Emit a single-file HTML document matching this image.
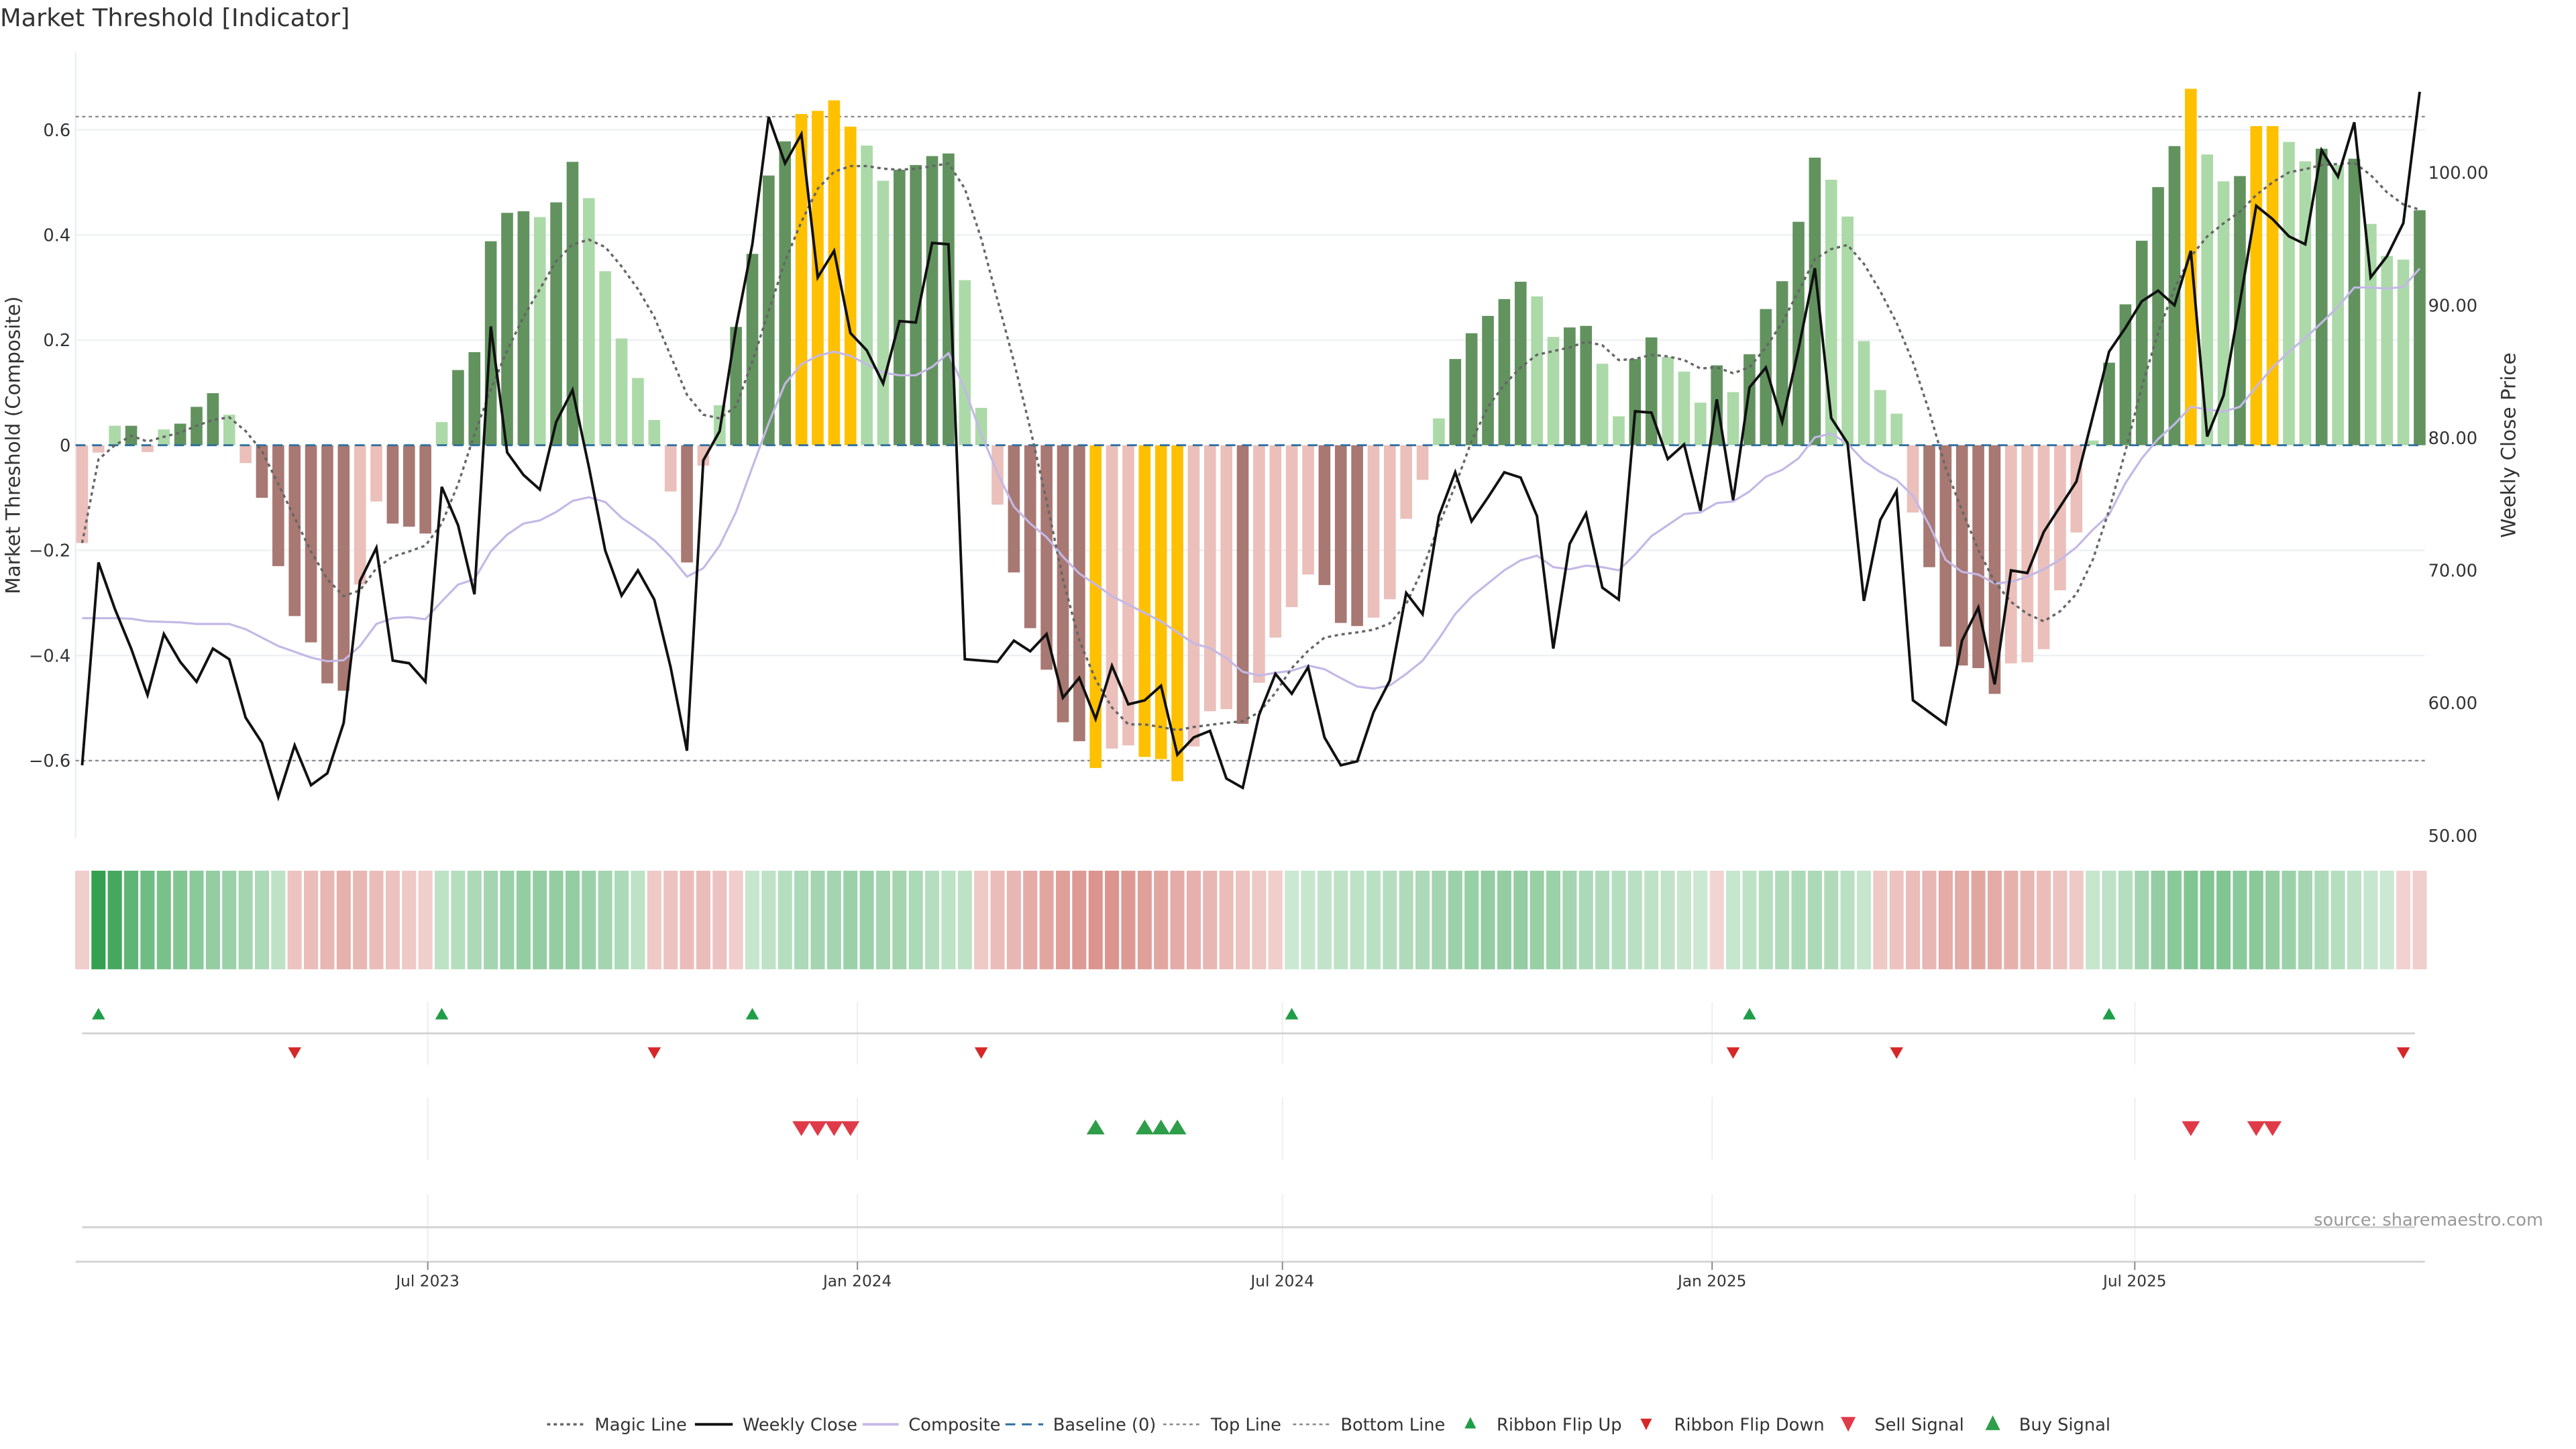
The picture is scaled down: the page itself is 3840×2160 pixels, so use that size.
<!DOCTYPE html>
<html><head><meta charset="utf-8">
<style>
html,body{margin:0;padding:0;background:#fff;}
svg{display:block;font-family:"DejaVu Sans","Liberation Sans",sans-serif;}
</style></head>
<body>
<svg id="chart" xmlns="http://www.w3.org/2000/svg" width="3840" height="2160" viewBox="0 0 1568 882" preserveAspectRatio="none">
<rect x="0" y="0" width="1568" height="882" fill="#fff"/>
<text x="0" y="16" font-size="15" fill="#333">Market Threshold [Indicator]</text>
<g id="grid"></g>
<g id="bars"></g>
<g id="lines"></g>
<g id="axes"></g>
<g id="heat"></g>
<g id="markers"></g>
<text x="12" y="271" font-size="12" fill="#333" text-anchor="middle" transform="rotate(-90 12 271)">Market Threshold (Composite)</text>
<text x="1531" y="271" font-size="12" fill="#333" text-anchor="middle" transform="rotate(-90 1531 271)">Weekly Close Price</text>
<text x="1548" y="746" font-size="10.5" fill="#999" text-anchor="end">source: sharemaestro.com</text>
<g id="legend"></g>
</svg>
<script>
const startDate = "2023-02-03";
const barValues = [-0.186,-0.014,0.037,0.037,-0.013,0.03,0.041,0.073,0.099,0.058,-0.034,-0.10,-0.23,-0.325,-0.375,-0.453,-0.467,-0.265,-0.107,-0.149,-0.155,-0.168,0.044,0.143,0.177,0.388,0.442,0.445,0.434,0.462,0.539,0.470,0.331,0.203,0.128,0.048,-0.088,-0.223,-0.039,0.076,0.225,0.364,0.513,0.578,0.63,0.636,0.656,0.606,0.570,0.503,0.524,0.533,0.550,0.555,0.314,0.071,-0.113,-0.242,-0.348,-0.427,-0.527,-0.563,-0.614,-0.577,-0.571,-0.593,-0.597,-0.639,-0.573,-0.506,-0.502,-0.530,-0.452,-0.366,-0.308,-0.246,-0.266,-0.338,-0.344,-0.328,-0.293,-0.140,-0.066,0.051,0.164,0.213,0.246,0.278,0.311,0.283,0.206,0.224,0.227,0.155,0.055,0.164,0.205,0.168,0.140,0.081,0.152,0.101,0.173,0.259,0.312,0.425,0.547,0.505,0.435,0.198,0.105,0.060,-0.128,-0.232,-0.383,-0.419,-0.424,-0.473,-0.415,-0.413,-0.388,-0.276,-0.166,0.009,0.157,0.268,0.389,0.491,0.569,0.678,0.553,0.502,0.512,0.607,0.607,0.577,0.540,0.564,0.533,0.545,0.421,0.360,0.353,0.447];
const barToneGroups = ["llldlldddl","lddddddlld","ddldddddld","dlllllldll","ddddggggll","ddddlllddd","ddgllgggll","ldlllldddl","lllldddddl","lddllddlll","dldddddlll","llldddddll","lllldddddg","lldgglldld","llld"];
const barTones = barToneGroups.join("");
const closePrices = [55.3,70.6,67.1,64.1,60.6,65.2,63.1,61.6,64.1,63.3,58.9,57.0,52.9,56.8,53.8,54.7,58.5,69.2,71.7,63.2,63.0,61.6,76.3,73.4,68.2,88.4,78.9,77.2,76.1,81.2,83.6,77.8,71.5,68.1,70.0,67.8,62.7,56.4,78.3,80.5,88.3,94.6,104.2,100.7,102.9,92.1,94.1,87.9,86.6,84.1,88.8,88.7,94.7,94.6,63.3,63.2,63.1,64.7,63.9,65.2,60.4,61.9,58.8,62.8,59.9,60.2,61.3,56.1,57.4,57.9,54.3,53.6,59.1,62.2,60.7,62.7,57.4,55.3,55.6,59.3,61.7,68.3,66.7,74.1,77.4,73.7,75.5,77.4,77.0,74.1,64.1,72.0,74.3,68.7,67.8,82.0,81.9,78.4,79.5,74.5,82.9,75.3,83.8,85.3,81.2,86.7,92.8,81.5,79.6,67.7,73.8,76.0,60.2,59.3,58.4,64.7,67.2,61.4,70.0,69.8,72.9,74.8,76.7,81.6,86.5,88.3,90.3,91.1,90.0,94.1,80.1,83.2,90.2,97.5,96.5,95.2,94.6,101.7,99.7,103.8,92.1,93.7,96.2,106.1];
const compositeLine = [-0.329,-0.329,-0.329,-0.33,-0.335,-0.336,-0.337,-0.34,-0.34,-0.34,-0.35,-0.366,-0.382,-0.393,-0.404,-0.411,-0.409,-0.382,-0.34,-0.329,-0.327,-0.331,-0.297,-0.265,-0.255,-0.202,-0.17,-0.149,-0.143,-0.127,-0.106,-0.099,-0.108,-0.138,-0.159,-0.181,-0.212,-0.25,-0.234,-0.191,-0.127,-0.042,0.042,0.117,0.154,0.17,0.178,0.17,0.154,0.138,0.133,0.133,0.149,0.175,0.106,0.021,-0.053,-0.117,-0.149,-0.175,-0.212,-0.244,-0.265,-0.287,-0.303,-0.319,-0.335,-0.356,-0.377,-0.386,-0.405,-0.431,-0.438,-0.433,-0.429,-0.419,-0.426,-0.443,-0.459,-0.463,-0.457,-0.435,-0.41,-0.368,-0.321,-0.288,-0.263,-0.238,-0.219,-0.21,-0.232,-0.236,-0.229,-0.232,-0.238,-0.208,-0.173,-0.152,-0.131,-0.128,-0.11,-0.107,-0.088,-0.06,-0.047,-0.025,0.015,0.022,0.003,-0.03,-0.051,-0.066,-0.096,-0.152,-0.218,-0.241,-0.246,-0.263,-0.26,-0.25,-0.236,-0.218,-0.194,-0.161,-0.132,-0.072,-0.025,0.012,0.04,0.073,0.068,0.064,0.073,0.111,0.148,0.178,0.204,0.233,0.263,0.3,0.3,0.298,0.301,0.336];
const magicLine = [-0.186,-0.027,0,0.018,0.007,0.016,0.024,0.037,0.048,0.053,0.027,-0.011,-0.074,-0.138,-0.202,-0.255,-0.287,-0.276,-0.234,-0.212,-0.202,-0.191,-0.149,-0.074,0.021,0.106,0.18,0.244,0.297,0.35,0.382,0.391,0.377,0.34,0.297,0.244,0.17,0.096,0.058,0.051,0.074,0.159,0.255,0.35,0.425,0.488,0.52,0.531,0.531,0.526,0.524,0.526,0.531,0.536,0.488,0.393,0.276,0.159,0.032,-0.106,-0.255,-0.371,-0.446,-0.499,-0.531,-0.531,-0.536,-0.542,-0.536,-0.532,-0.528,-0.525,-0.508,-0.471,-0.424,-0.391,-0.366,-0.36,-0.356,-0.351,-0.339,-0.302,-0.236,-0.152,-0.077,0.008,0.073,0.115,0.148,0.172,0.179,0.186,0.197,0.19,0.162,0.164,0.172,0.169,0.162,0.146,0.148,0.137,0.148,0.186,0.233,0.293,0.354,0.373,0.381,0.345,0.293,0.233,0.158,0.064,-0.043,-0.124,-0.199,-0.26,-0.298,-0.321,-0.335,-0.316,-0.283,-0.218,-0.124,-0.011,0.111,0.214,0.298,0.359,0.397,0.422,0.444,0.476,0.5,0.519,0.525,0.533,0.535,0.537,0.514,0.481,0.458,0.448];
const heatValues = [-0.15,1.0,0.9,0.75,0.65,0.6,0.55,0.5,0.45,0.4,0.35,0.3,0.2,-0.25,-0.3,-0.35,-0.4,-0.35,-0.3,-0.25,-0.2,-0.15,0.2,0.25,0.3,0.35,0.4,0.45,0.45,0.45,0.45,0.4,0.35,0.3,0.2,-0.2,-0.25,-0.3,-0.3,-0.25,-0.15,0.15,0.2,0.25,0.3,0.35,0.35,0.4,0.4,0.35,0.35,0.3,0.25,0.2,0.2,-0.2,-0.3,-0.35,-0.45,-0.5,-0.55,-0.6,-0.65,-0.65,-0.6,-0.55,-0.5,-0.45,-0.4,-0.35,-0.3,-0.25,-0.2,-0.15,0.12,0.15,0.18,0.2,0.2,0.22,0.25,0.28,0.3,0.35,0.4,0.42,0.45,0.45,0.45,0.42,0.4,0.35,0.3,0.28,0.25,0.22,0.2,0.18,0.15,0.12,-0.1,0.15,0.2,0.25,0.28,0.3,0.3,0.28,0.22,0.15,-0.2,-0.25,-0.3,-0.35,-0.45,-0.45,-0.5,-0.45,-0.4,-0.35,-0.3,-0.25,-0.2,0.15,0.2,0.25,0.35,0.45,0.5,0.55,0.55,0.55,0.5,0.5,0.45,0.4,0.35,0.3,0.25,0.2,0.15,0.12,-0.12,-0.15];
const ribbonUpIdx = [2,23,42,75,103,125];
const ribbonDownIdx = [14,36,56,102,112,143];
const sellIdx = [45,46,47,48,130,134,135];
const buyIdx = [63,66,67,68];
const leftTicks = [0.6,0.4,0.2,0,-0.2,-0.4,-0.6];
const leftTickLabels = ["0.6","0.4","0.2","0","\u22120.2","\u22120.4","\u22120.6"];
const rightTicks = [100,90,80,70,60,50];
const rightTickLabels = ["100.00","90.00","80.00","70.00","60.00","50.00"];
const dateTicks = ["2023-07-01","2024-01-01","2024-07-01","2025-01-01","2025-07-01"];
const dateTickLabels = ["Jul 2023","Jan 2024","Jul 2024","Jan 2025","Jul 2025"];
const topLineValue = 0.625;
const bottomLineValue = -0.6;

const NS="http://www.w3.org/2000/svg";
const X0=50, STEP=9.95, PL=46, PR=1476;
function xIdx(i){return X0+(i-1)*STEP;}
function xDate(d){return X0+(new Date(d)-new Date(startDate))/86400000/7*STEP;}
function yL(v){return 271-320*v;}
function yR(p){return 266.5-8.07*(p-80);}
function mk(tag,attrs,parent){const e=document.createElementNS(NS,tag);for(const k in attrs)e.setAttribute(k,attrs[k]);parent.appendChild(e);return e;}
const G=id=>document.getElementById(id);

const grid=G('grid');
leftTicks.forEach(t=>{if(t!==0){const l=mk('line',{x1:PL,x2:PR,y1:yL(t),y2:yL(t),stroke:'#eef0f4','stroke-width':1},grid);

}});
const la=mk('line',{x1:PL,x2:PL,y1:32,y2:510,stroke:'#eceef4','stroke-width':1},grid);


[[yL(topLineValue),'top-line'],[yL(bottomLineValue),'bottom-line']].forEach(([y,n])=>{const l=mk('line',{x1:PL,x2:PR,y1:y,y2:y,stroke:'#888','stroke-width':0.9,'stroke-dasharray':'2,2'},grid);

});

const bars=G('bars');
const toneColor={pd:'#62935f',pl:'#acd9a8',nd:'#a87872',nl:'#ebbfba',g:'#ffc000'};
barValues.forEach((v,k)=>{const i=k+1;const t=barTones[k]||'l';
let c=t==='g'?toneColor.g:(v>=0?(t==='d'?toneColor.pd:toneColor.pl):(t==='d'?toneColor.nd:toneColor.nl));
const y=Math.min(yL(v),yL(0)),h=Math.abs(yL(v)-yL(0));
const r=mk('rect',{x:xIdx(i)-3.6,y:y,width:7.2,height:Math.max(h,0.5),fill:c},bars);

});
const bl=mk('line',{x1:PL,x2:PR,y1:yL(0),y2:yL(0),stroke:'#2f6f9f','stroke-width':1.2,'stroke-dasharray':'6,4'},bars);



const lines=G('lines');
function pathFrom(arr,yf){return arr.map((v,k)=>(k?'L':'M')+xIdx(k+1).toFixed(2)+','+yf(v).toFixed(2)).join('');}
const comp=mk('path',{d:pathFrom(compositeLine,yL),fill:'none',stroke:'#c4b8e6','stroke-width':1.3},lines);


const mag=mk('path',{d:pathFrom(magicLine,yL),fill:'none',stroke:'#666','stroke-width':1.4,'stroke-dasharray':'2,2.2'},lines);


const cl=mk('path',{d:pathFrom(closePrices,yR),fill:'none',stroke:'#111','stroke-width':1.6},lines);



const axes=G('axes');
leftTicks.forEach((t,k)=>{const e=mk('text',{x:43,y:yL(t)+3.8,'font-size':10.5,fill:'#333','text-anchor':'end'},axes);e.textContent=leftTickLabels[k];

});
rightTicks.forEach((t,k)=>{const e=mk('text',{x:1478,y:yR(t)+3.8,'font-size':10.5,fill:'#333'},axes);e.textContent=rightTickLabels[k];

});

const heat=G('heat');
function heatColor(v){let a,b,t=Math.min(1,Math.abs(v));
if(v>=0){a=[224,242,228];b=[52,160,80];}else{a=[246,224,223];b=[205,107,98];}
return 'rgb('+a.map((c,j)=>Math.round(c+(b[j]-c)*t)).join(',')+')';}
heatValues.forEach((v,k)=>{const r=mk('rect',{x:xIdx(k+1)-4.3,y:530,width:8.6,height:60,fill:heatColor(v)},heat);

});
[[610,648],[668,706],[727,767]].forEach(([a,b])=>dateTicks.forEach(d=>{const l=mk('line',{x1:xDate(d),x2:xDate(d),y1:a,y2:b,stroke:'#eeeeee','stroke-width':0.8},heat);

}));
[[629,'ribbon-separator'],[747,'signal-separator']].forEach(([y,n])=>{const l=mk('line',{x1:50,x2:1470,y1:y,y2:y,stroke:'#d3d3d3','stroke-width':1.2},heat);

});
const xa=mk('line',{x1:PL,x2:PR,y1:768,y2:768,stroke:'#d3d3d3','stroke-width':1.2},heat);


dateTicks.forEach((d,k)=>{const x=xDate(d);
const t=mk('line',{x1:x,x2:x,y1:768,y2:773,stroke:'#888','stroke-width':0.8},heat);


const e=mk('text',{x:x,y:783,'font-size':9.5,fill:'#333','text-anchor':'middle'},heat);e.textContent=dateTickLabels[k];

});

const markers=G('markers');
function tri(x,y,w,h,up,color,name){const p=up?`${x-w/2},${y+h/2} ${x+w/2},${y+h/2} ${x},${y-h/2}`:`${x-w/2},${y-h/2} ${x+w/2},${y-h/2} ${x},${y+h/2}`;
const e=mk('polygon',{points:p,fill:color},markers);

return e;}
ribbonUpIdx.forEach(i=>tri(xIdx(i),617,8,7,true,'#1f9e48','ribbon-flip-up-marker'));
ribbonDownIdx.forEach(i=>tri(xIdx(i),641,8,7,false,'#d62728','ribbon-flip-down-marker'));
sellIdx.forEach(i=>tri(xIdx(i),687,11,9,false,'#e03a48','sell-signal-marker'));
buyIdx.forEach(i=>tri(xIdx(i),686,11,9,true,'#2e9e4a','buy-signal-marker'));

const lg=G('legend');const LY=867;
function ltext(x,s){const e=mk('text',{x:x,y:LY+3.7,'font-size':10.5,fill:'#333'},lg);e.textContent=s;

}
function lline(x1,x2,st,w,da,n){const e=mk('line',{x1:x1,x2:x2,y1:LY,y2:LY,stroke:st,'stroke-width':w},lg);if(da)e.setAttribute('stroke-dasharray',da);

}
lline(333,355,'#666',1.4,'2,2','legend-magic-line');ltext(362,'Magic Line');
lline(423,446,'#111',1.6,null,'legend-weekly-close');ltext(452,'Weekly Close');
lline(525,547,'#c4b8e6',1.5,null,'legend-composite');ltext(553,'Composite');
lline(612,635,'#2f6f9f',1.2,'6,4','legend-baseline');ltext(641,'Baseline (0)');
lline(708,731,'#888',1,'2,2','legend-top-line');ltext(737,'Top Line');
lline(787,810,'#888',1,'2,2','legend-bottom-line');ltext(816,'Bottom Line');
tri(895,LY-1,7,7,true,'#1f9e48','legend-ribbon-flip-up');ltext(911,'Ribbon Flip Up');
tri(1002,LY,7,7,false,'#d62728','legend-ribbon-flip-down');ltext(1019,'Ribbon Flip Down');
tri(1125,LY,9,9,false,'#e03a48','legend-sell-signal');ltext(1141,'Sell Signal');
tri(1213,LY-1,9,9,true,'#2e9e4a','legend-buy-signal');ltext(1229,'Buy Signal');
</script>
</body></html>
